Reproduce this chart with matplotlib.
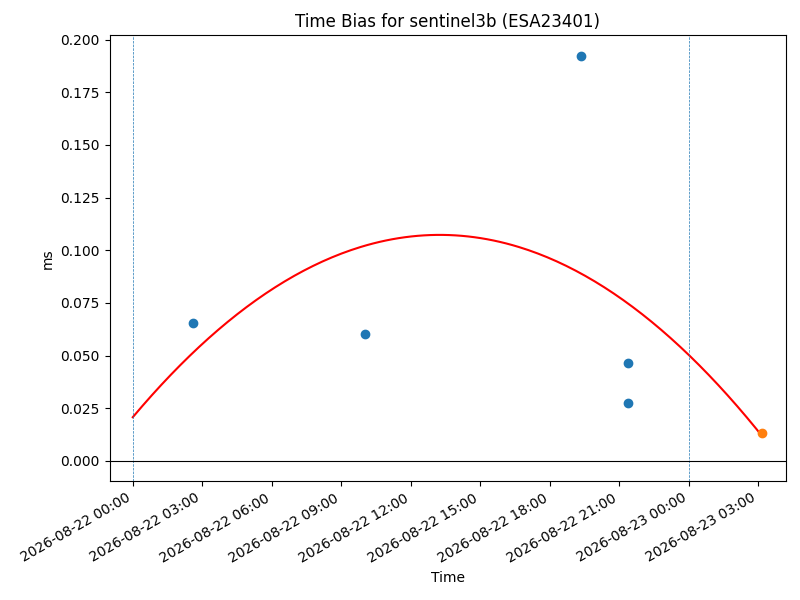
import matplotlib
matplotlib.use("Agg")
import matplotlib.pyplot as plt
import matplotlib.dates as mdates
import numpy as np
import pandas as pd

# Data
obs_times = ["2026-08-22 02:36", "2026-08-22 10:02", "2026-08-22 19:20",
             "2026-08-22 21:23", "2026-08-22 21:23"]
obs_bias_ms = [0.0655, 0.0602, 0.1924, 0.0466, 0.0274]
pred_time = "2026-08-23 03:11"
pred_bias_ms = 0.0132
day_boundaries = ["2026-08-22 00:00", "2026-08-23 00:00"]
title = "Time Bias for sentinel3b (ESA23401)"

t_obs = pd.to_datetime(obs_times)
t_pred = pd.Timestamp(pred_time)
t_days = pd.to_datetime(day_boundaries)
t0 = t_days[0]

# Quadratic fit of the observations, drawn from day start to prediction time
h_obs = (t_obs - t0) / pd.Timedelta(hours=1)
coef = np.polyfit(h_obs, obs_bias_ms, 2)
h_fit = np.linspace(0, (t_pred - t0) / pd.Timedelta(hours=1), 200)
t_fit = t0 + pd.to_timedelta(h_fit, unit="h")
y_fit = np.polyval(coef, h_fit)

fig, ax = plt.subplots(figsize=(8, 6), dpi=100)
ax.scatter(t_obs, obs_bias_ms, color="C0", zorder=3)
ax.scatter([t_pred], [pred_bias_ms], color="C1", zorder=3)
ax.plot(t_fit, y_fit, color="red")
for d in t_days:
    ax.axvline(d, linestyle="--", linewidth=0.5, color="C0")
ax.axhline(0, color="black", linewidth=0.8)

ax.set_xlim(t0 - pd.Timedelta(hours=1), t_pred + pd.Timedelta(hours=1))
ax.xaxis.set_major_locator(mdates.HourLocator(byhour=range(0, 24, 3)))
ax.xaxis.set_major_formatter(mdates.DateFormatter("%Y-%m-%d %H:%M"))
ax.set_title(title)
ax.set_xlabel("Time")
ax.set_ylabel("ms")
fig.autofmt_xdate()
fig.subplots_adjust(left=0.137, right=0.982, top=0.941, bottom=0.198)
fig.savefig("out.png", dpi=100)
